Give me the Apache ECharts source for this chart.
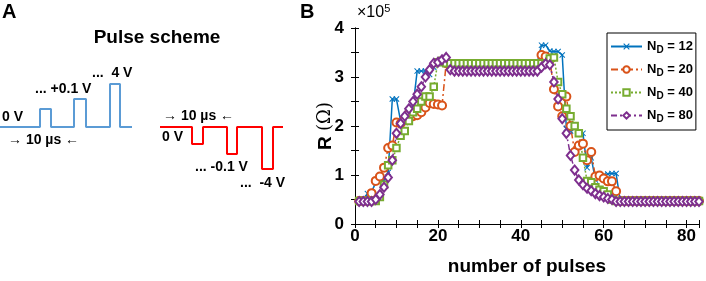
<!DOCTYPE html>
<html><head><meta charset="utf-8">
<script src="https://cdn.jsdelivr.net/npm/echarts@6/dist/echarts.min.js"></script>
<style>html,body{margin:0;padding:0;background:#fff}#c{width:706px;height:281px}</style>
</head><body><div id="c"></div>
<script>
// ---------- Panel B data (R in units of 1e5 ohm), pulse number 1..83 ----------
const seriesNames = ['ND12', 'ND20', 'ND40', 'ND80'];
const legendLabels = ['12', '20', '40', '80'];
const xTicks = [0, 20, 40, 60, 80];
const yTicks = [0, 1, 2, 3, 4];
const nd12 = [0.47,0.47,0.62,0.65,0.85,0.87,0.9,1.05,2.55,2.55,
  2.1,2.2,2.3,2.4,3.12,3.12,3.12,3.05,3.2,3.28,
  3.3,3.3,3.3,3.3,3.3,3.3,3.3,3.3,3.3,3.3,3.3,3.3,3.3,3.3,3.3,3.3,3.3,3.3,3.3,3.3,3.3,3.3,3.3,3.3,
  3.65,3.65,3.53,3.52,3.52,3.45,
  1.95,1.9,1.95,1.85,1.85,1.15,1.35,0.9,1.0,1.0,
  1.02,1.03,1.03,
  0.47,0.47,0.47,0.47,0.47,0.47,0.47,0.47,0.47,0.47,0.47,0.47,0.47,0.47,0.47,0.47,0.47,0.47,0.47,0.47];
const nd20 = [0.47,0.47,0.47,0.63,0.88,0.97,1.15,1.55,1.6,2.07,
  2.05,2.15,2.25,2.2,2.22,2.28,2.38,2.47,2.45,2.44,
  2.42,3.28,
  3.22,3.22,3.22,3.22,3.22,3.22,3.22,3.22,3.22,3.22,3.22,3.22,3.22,3.22,3.22,3.22,3.22,3.22,3.22,3.22,3.22,3.22,
  3.45,3.42,3.35,2.75,2.4,2.2,
  2.6,2.0,1.47,1.6,1.64,1.3,1.47,0.97,0.99,0.93,
  0.87,0.87,0.67,0.47,
  0.47,0.47,0.47,0.47,0.47,0.47,0.47,0.47,0.47,0.47,0.47,0.47,0.47,0.47,0.47,0.47,0.47,0.47,0.47];
const nd40 = [0.47,0.47,0.47,0.47,0.47,0.55,0.8,1.2,1.3,1.55,
  1.8,1.9,2.1,2.28,2.35,2.5,2.6,2.6,2.8,3.3,
  3.33,
  3.28,3.28,3.28,3.28,3.28,3.28,3.28,3.28,3.28,3.28,3.28,3.28,3.28,3.28,3.28,3.28,3.28,3.28,3.28,3.28,3.28,3.28,3.28,3.28,3.28,
  3.38,3.4,2.9,2.65,
  2.35,2.2,2.0,1.85,1.35,0.88,0.85,0.75,0.7,0.67,
  0.6,0.5,
  0.47,0.47,0.47,0.47,0.47,0.47,0.47,0.47,0.47,0.47,0.47,0.47,0.47,0.47,0.47,0.47,0.47,0.47,0.47,0.47,0.47];
const nd80 = [0.46,0.46,0.46,0.46,0.5,0.6,0.75,0.95,1.3,1.85,
  2.05,2.2,2.35,2.5,2.65,2.8,3.0,3.15,3.28,3.3,
  3.35,3.4,3.15,
  3.12,3.12,3.12,3.12,3.12,3.12,3.12,3.12,3.12,3.12,3.12,3.12,3.12,3.12,3.12,3.12,3.12,3.12,3.12,3.12,3.12,
  3.2,3.27,3.25,2.9,2.55,2.15,
  1.85,1.4,1.1,0.9,0.8,0.73,0.68,0.62,0.58,0.55,
  0.52,0.5,
  0.46,0.46,0.46,0.46,0.46,0.46,0.46,0.46,0.46,0.46,0.46,0.46,0.46,0.46,0.46,0.46,0.46,0.46,0.46,0.46,0.46];
const pulseNumbers = nd12.map((_, i) => i + 1);

// ---------- Panel A schematic waveforms (schematic units) ----------
const bluePulseT = [0,40,40,51,51,74,74,86,86,110,110,120,120,132];
const bluePulseV = [127,127,109,109,127,127,99,99,127,127,84,84,127,127];
const redPulseT = [160,192,192,203,203,227,227,237,237,262,262,273,273,283];
const redPulseV = [127,127,144,144,127,127,154,154,127,127,169,169,127,127];

const colors = ['#0072BD', '#D95319', '#77AC30', '#7E2F8E'];
const pair = (xs, ys) => xs.map((x, i) => [x, ys[i]]);
const FONT = 'Liberation Sans, Arial, sans-serif';
const xMark = 'path://M0,1.2L1.2,0L5,3.8L8.8,0L10,1.2L6.2,5L10,8.8L8.8,10L5,6.2L1.2,10L0,8.8L3.8,5Z';

const chart = echarts.init(document.getElementById('c'));
const tickCommon = { inside: true, length: 4, lineStyle: { color: '#000', width: 1 } };
const option = {
  animation: false,
  backgroundColor: '#fff',
  textStyle: { fontFamily: FONT },
  grid: [
    { left: 355, top: 28, right: 7, bottom: 55 },
    { left: 0, top: 0, width: 300, height: 281 }
  ],
  xAxis: [
    { type: 'value', gridIndex: 0, min: 0, max: 83, interval: 5,
      axisLine: { lineStyle: { color: '#000', width: 1 } }, axisTick: tickCommon, splitLine: { show: false },
      axisLabel: { margin: 4, color: '#000', fontWeight: 'bold', fontSize: 17, fontFamily: FONT,
        formatter: v => (xTicks.includes(v) ? String(v) : '') },
      name: 'number of pulses', nameLocation: 'middle', nameGap: 33, nameMoveOverlap: false,
      nameTextStyle: { color: '#000', fontWeight: 'bold', fontSize: 19, fontFamily: FONT } },
    { type: 'value', gridIndex: 0, position: 'top', min: 0, max: 83, interval: 5,
      axisLine: { lineStyle: { color: '#000', width: 1 } }, axisTick: tickCommon, axisLabel: { show: false }, splitLine: { show: false } },
    { type: 'value', gridIndex: 1, min: 0, max: 300, show: false }
  ],
  yAxis: [
    { type: 'value', gridIndex: 0, min: 0, max: 4, interval: 0.5,
      axisLine: { show: true, lineStyle: { color: '#000', width: 1 } }, axisTick: { show: true, ...tickCommon }, splitLine: { show: false },
      axisLabel: { margin: 11, color: '#000', fontWeight: 'bold', fontSize: 17, fontFamily: FONT,
        formatter: v => (yTicks.includes(v) ? String(v) : '') },
      name: '{b|R} {n|(Ω)}', nameLocation: 'middle', nameGap: 20, nameMoveOverlap: false,
      nameTextStyle: { color: '#000', fontSize: 19, fontFamily: FONT,
        rich: { b: { fontWeight: 'bold', fontSize: 19, fontFamily: FONT, color: '#000' },
                n: { fontWeight: 'normal', fontSize: 18, fontFamily: 'DejaVu Serif', color: '#000' } } } },
    { type: 'value', gridIndex: 0, position: 'right', min: 0, max: 4, interval: 0.5,
      axisLine: { show: true, lineStyle: { color: '#000', width: 1 } }, axisTick: { show: true, ...tickCommon }, axisLabel: { show: false }, splitLine: { show: false } },
    { type: 'value', gridIndex: 1, min: 0, max: 281, inverse: true, show: false }
  ],
  legend: {
    orient: 'vertical', left: 607, top: 33,
    padding: [7, 3, 6, 3], itemGap: 8, itemWidth: 31, itemHeight: 8,
    borderColor: '#000', borderWidth: 1, backgroundColor: '#fff',
    data: seriesNames,
    formatter: name => 'N{sub|D} = ' + legendLabels[seriesNames.indexOf(name)],
    textStyle: { color: '#000', fontWeight: 'bold', fontSize: 13, fontFamily: FONT,
      rich: { sub: { fontSize: 10, fontWeight: 'bold', fontFamily: FONT, color: '#000', padding: [7, 0, 0, 0] } } }
  },
  series: [
    { name: seriesNames[0], type: 'line', xAxisIndex: 0, yAxisIndex: 0, data: pair(pulseNumbers, nd12),
      symbol: xMark, symbolSize: 6, color: colors[0],
      lineStyle: { width: 1.5, color: colors[0] }, itemStyle: { color: colors[0] } },
    { name: seriesNames[1], type: 'line', xAxisIndex: 0, yAxisIndex: 0, data: pair(pulseNumbers, nd20),
      symbol: 'emptyCircle', symbolSize: 8, color: colors[1],
      lineStyle: { width: 1.5, color: colors[1], type: [7, 3, 2, 3] }, itemStyle: { color: colors[1], borderWidth: 1.5 } },
    { name: seriesNames[2], type: 'line', xAxisIndex: 0, yAxisIndex: 0, data: pair(pulseNumbers, nd40),
      symbol: 'emptyRect', symbolSize: 6.5, color: colors[2],
      lineStyle: { width: 1.5, color: colors[2], type: [2, 2] }, itemStyle: { color: colors[2], borderWidth: 1.5 } },
    { name: seriesNames[3], type: 'line', xAxisIndex: 0, yAxisIndex: 0, data: pair(pulseNumbers, nd80),
      symbol: 'emptyDiamond', symbolSize: [7.5, 9], color: colors[3],
      lineStyle: { width: 1.5, color: colors[3], type: [6, 3, 2, 3] }, itemStyle: { color: colors[3], borderWidth: 1.5 } },
    { type: 'line', xAxisIndex: 2, yAxisIndex: 2, data: pair(bluePulseT, bluePulseV), symbol: 'none',
      lineStyle: { width: 2, color: '#5B9BD5' }, silent: true },
    { type: 'line', xAxisIndex: 2, yAxisIndex: 2, data: pair(redPulseT, redPulseV), symbol: 'none',
      lineStyle: { width: 2, color: '#FF0000' }, silent: true }
  ],
  graphic: [
    { type: 'text', left: 2, top: 2, style: { text: 'A', font: 'bold 20px ' + FONT, fill: '#000' } },
    { type: 'text', left: 300, top: 2, style: { text: 'B', font: 'bold 20px ' + FONT, fill: '#000' } },
    { type: 'text', x: 157, y: 38, style: { text: 'Pulse scheme', font: 'bold 19px ' + FONT, fill: '#000', align: 'center', verticalAlign: 'middle' } },
    { type: 'text', x: 2, y: 117, style: { text: '0 V', font: 'bold 14px ' + FONT, fill: '#000', verticalAlign: 'middle' } },
    { type: 'text', x: 35, y: 89, style: { text: '... +0.1 V', font: 'bold 14px ' + FONT, fill: '#000', verticalAlign: 'middle' } },
    { type: 'text', x: 92, y: 73, style: { text: '...  4 V', font: 'bold 14px ' + FONT, fill: '#000', verticalAlign: 'middle' } },
    { type: 'text', x: 8, y: 140, style: { text: '\u2192 10 \u00b5s \u2190', font: 'bold 14px ' + FONT, fill: '#000', verticalAlign: 'middle' } },
    { type: 'text', x: 163, y: 116, style: { text: '\u2192 10 \u00b5s \u2190', font: 'bold 14px ' + FONT, fill: '#000', verticalAlign: 'middle' } },
    { type: 'text', x: 162, y: 137, style: { text: '0 V', font: 'bold 14px ' + FONT, fill: '#000', verticalAlign: 'middle' } },
    { type: 'text', x: 195, y: 167, style: { text: '... -0.1 V', font: 'bold 14px ' + FONT, fill: '#000', verticalAlign: 'middle' } },
    { type: 'text', x: 240, y: 183, style: { text: '...  -4 V', font: 'bold 14px ' + FONT, fill: '#000', verticalAlign: 'middle' } },
    { type: 'text', x: 357, y: 13, style: { rich: { a: { fontSize: 16, fontFamily: FONT, fill: '#000' }, s: { fontSize: 11, fontFamily: FONT, fill: '#000', padding: [0, 0, 8, 0] } },
        text: '{a|\u00d710}{s|5}', verticalAlign: 'middle' } }
  ]
};
chart.setOption(option);
</script>
</body></html>
